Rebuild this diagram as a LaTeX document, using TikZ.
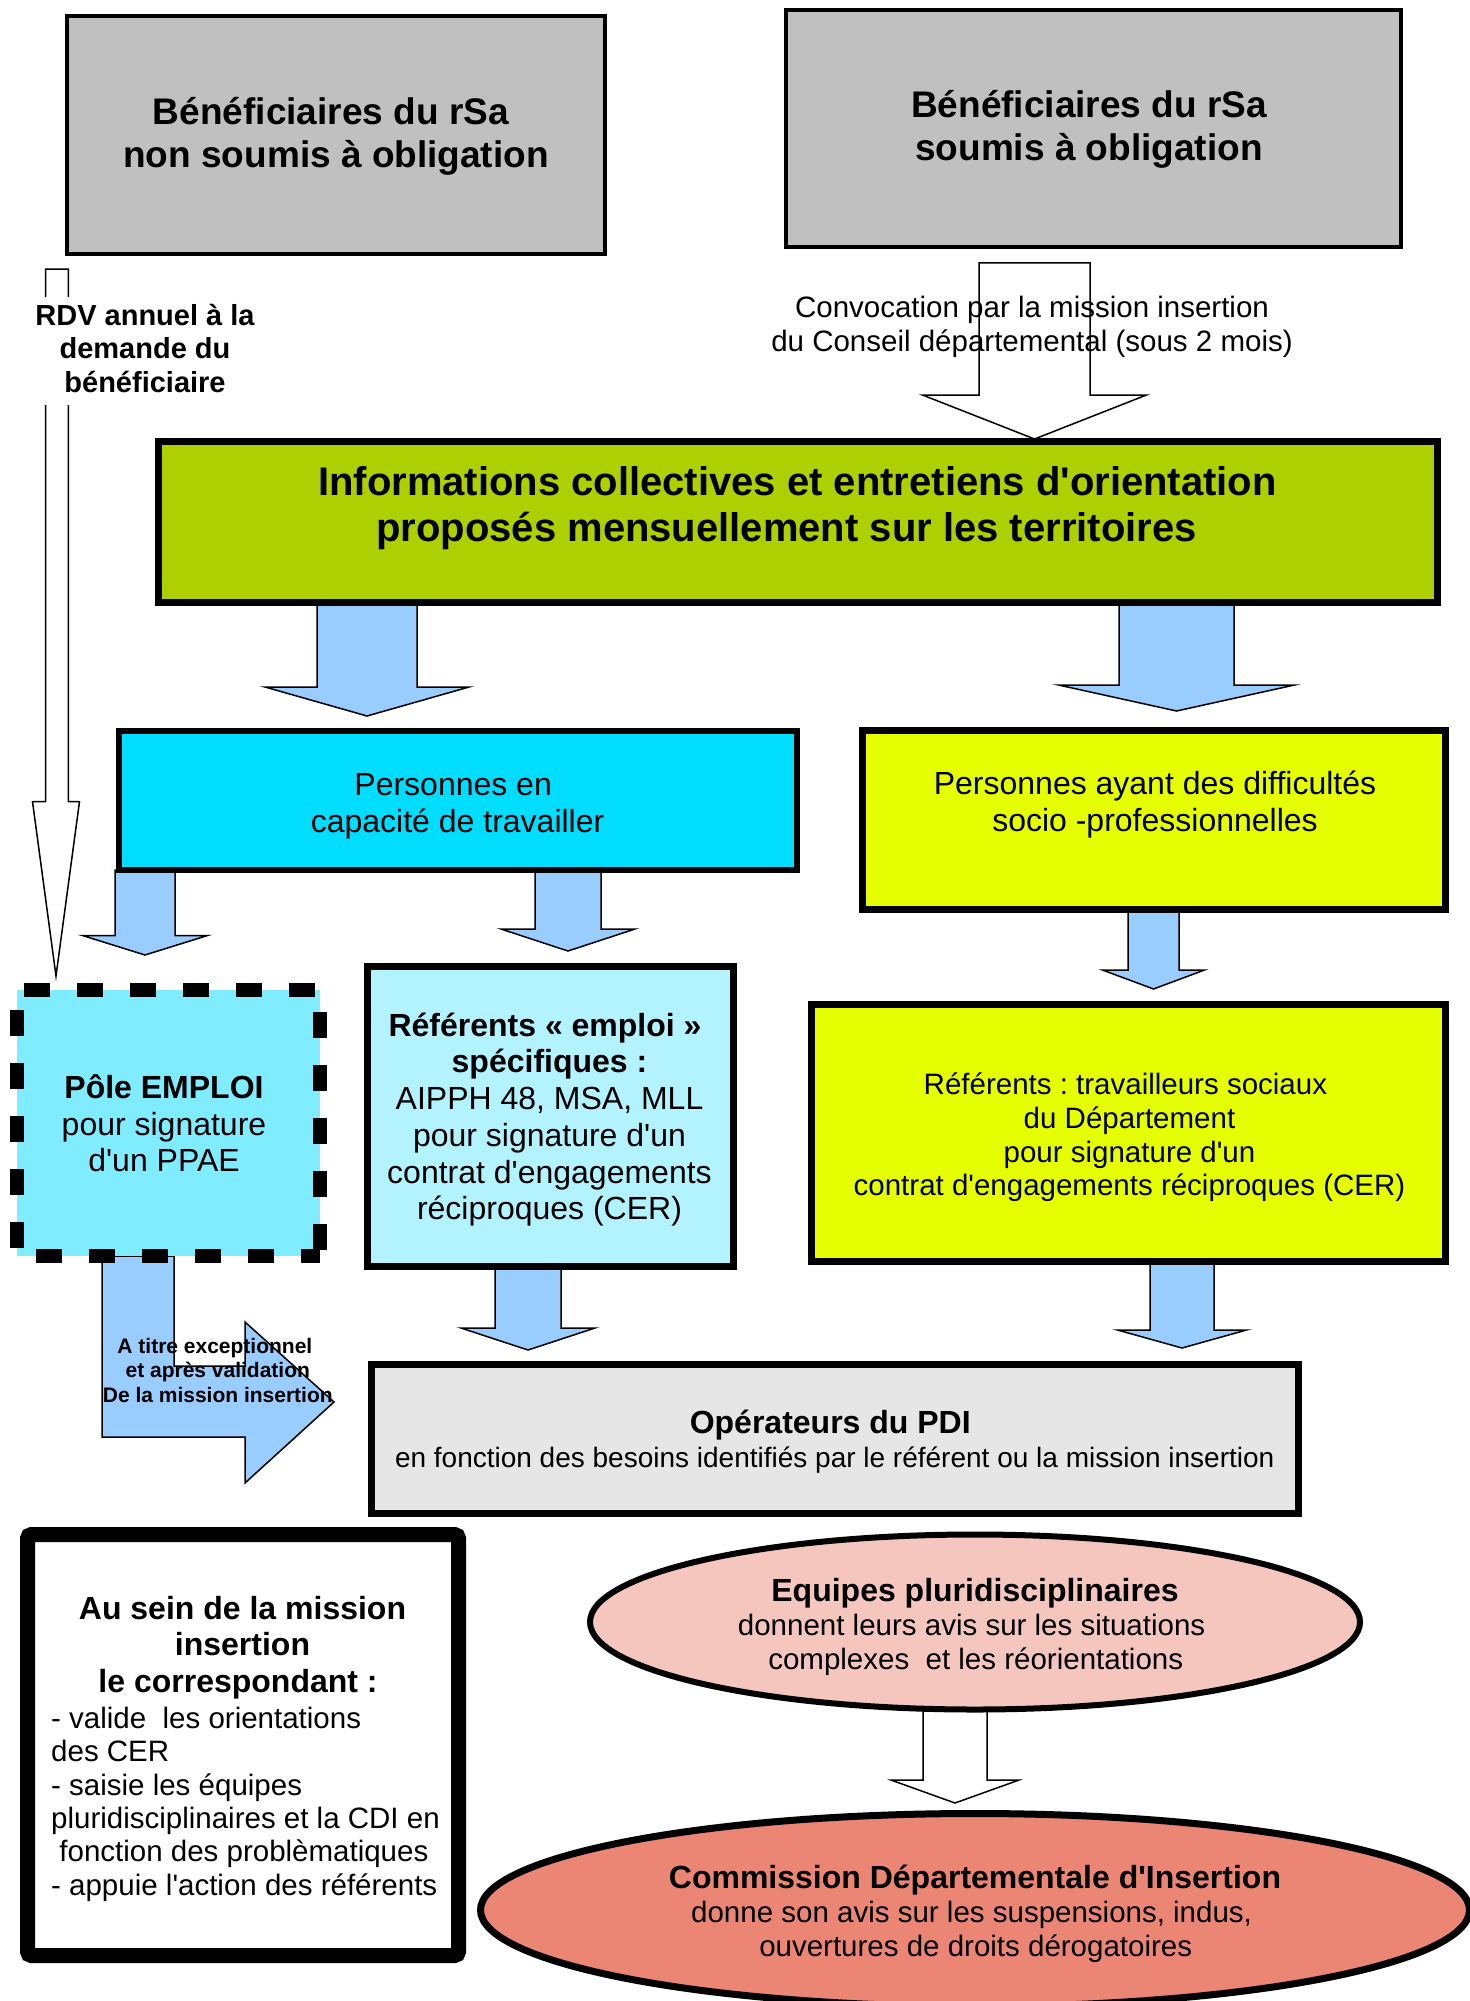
\documentclass[tikz,border=0pt]{standalone}
\usepackage{fontspec}
\newfontfamily\liber{Liberation Sans}
\usetikzlibrary{calc,shapes.geometric,backgrounds}

\definecolor{boxgray}{RGB}{192,192,192}
\definecolor{infogreen}{RGB}{175,208,0}
\definecolor{arrowblue}{RGB}{153,204,255}
\definecolor{capcyan}{RGB}{0,221,255}
\definecolor{polecyan}{RGB}{128,236,255}
\definecolor{refcyan}{RGB}{179,243,255}
\definecolor{diffyellow}{RGB}{230,255,0}
\definecolor{opgray}{RGB}{230,230,230}
\definecolor{eqpink}{RGB}{245,198,190}
\definecolor{cdisalmon}{RGB}{235,134,116}

\newcommand\fz[2]{\liber\fontsize{#1}{#2}\selectfont\frenchspacing}
\newcommand\mystrut{\rule{0pt}{1em}}

% block arrow pointing down: #1 style, #2 source node, #3 target node, #4 x,
% #5 shaft half width, #6 head half width, #7 head length, #8 gap above target, #9 gap below source
\newcommand\blockdown[9]{%
  \path (#4,0 |- #2.south) coordinate (ba-s) (#4,0 |- #3.north) coordinate (ba-t);
  \draw[#1] ($(ba-s)+(-#5,#9)$) -- ($(ba-s)+(#5,#9)$) -- ($(ba-t)+(#5,-#8-#7)$)
    -- ($(ba-t)+(#6,-#8-#7)$) -- ($(ba-t)+(0,-#8)$) -- ($(ba-t)+(-#6,-#8-#7)$)
    -- ($(ba-t)+(-#5,-#8-#7)$) -- cycle;}

\tikzset{
  shapebox/.style={rectangle, draw=black, inner sep=0pt, outer sep=0pt},
  shapeell/.style={ellipse, draw=black, inner sep=0pt, outer sep=0pt},
  txt/.style={inner sep=0pt, anchor=north, align=center, text=black},
  bluearrow/.style={fill=arrowblue, draw=black, line width=1.5pt},
  hollowarrow/.style={fill=white, draw=black, line width=1.5pt},
  poledash/.style={line width=14pt, dash pattern=on 26pt off 27pt},
}

\begin{document}
\begin{tikzpicture}[x=1pt,y=-1pt]
\useasboundingbox (0,0) rectangle (1469,2001);
\begin{pgfonlayer}{background}
  \fill[white] (0,0) rectangle (1469,2001);
\end{pgfonlayer}

% ---------- boxes ----------
\node[shapebox, fill=boxgray, line width=4pt, minimum width=538pt, minimum height=238pt] (nonsoumis) at (336,135) {};
\node[shapebox, fill=boxgray, line width=4pt, minimum width=615pt, minimum height=237pt] (soumis) at (1093.5,128.5) {};
\node[shapebox, fill=infogreen, line width=7pt, minimum width=1279pt, minimum height=161pt] (infos) at (797.5,521.5) {};
\node[shapebox, fill=capcyan, line width=6pt, minimum width=678pt, minimum height=139pt] (capacite) at (458,800.5) {};
\node[shapebox, fill=diffyellow, line width=7pt, minimum width=582.5pt, minimum height=179pt] (difficultes) at (1153.75,819.5) {};
\node[rectangle, fill=polecyan, inner sep=0pt, outer sep=0pt, minimum width=303.5pt, minimum height=266pt] (pole) at (168.25,1123) {};
\draw[poledash, dash phase=45.5pt] (pole.north west) -- (pole.north east);
\draw[poledash, dash phase=31pt] (pole.north east) -- (pole.south east);
\draw[poledash, dash phase=33.5pt] (pole.south west) -- (pole.south east);
\draw[poledash, dash phase=33pt] (pole.north west) -- (pole.south west);
\node[shapebox, fill=refcyan, line width=7pt, minimum width=366pt, minimum height=300pt] (refemploi) at (550,1116) {};
\node[shapebox, fill=diffyellow, line width=7pt, minimum width=633.5pt, minimum height=257pt] (refsociaux) at (1128.25,1133) {};
\node[shapebox, fill=opgray, line width=7pt, minimum width=927pt, minimum height=149pt] (operateurs) at (834.5,1438.5) {};
\node[shapeell, fill=eqpink, line width=6pt, minimum width=770pt, minimum height=175pt] (equipes) at (975,1622) {};
\node[shapeell, fill=cdisalmon, line width=7pt, minimum width=989pt, minimum height=193pt] (cdi) at (975,1910) {};
\node[shapebox, fill=white, line width=15pt, rounded corners=4pt, minimum width=431pt, minimum height=421pt] (mission) at (243,1745) {};

% ---------- arrows (behind the boxes) ----------
\begin{pgfonlayer}{background}
  \blockdown{hollowarrow}{soumis}{infos}{1034.5}{55.5}{112}{44}{2}{16}
  \blockdown{bluearrow}{infos}{capacite}{367}{50}{102}{29}{15}{0}
  \blockdown{bluearrow}{infos}{difficultes}{1176.5}{57.5}{118}{26}{19}{0}
  \blockdown{bluearrow}{capacite}{pole}{145}{30}{62.5}{19.5}{35}{0}
  \blockdown{bluearrow}{capacite}{refemploi}{568}{33}{67}{22}{15}{0}
  \blockdown{bluearrow}{difficultes}{refsociaux}{1153.5}{25.5}{51}{19}{15.5}{0}
  \blockdown{bluearrow}{refemploi}{operateurs}{528}{33}{67}{22}{14}{0}
  \blockdown{bluearrow}{refsociaux}{operateurs}{1182}{32}{64.5}{18}{16}{0}
  \blockdown{hollowarrow}{equipes}{cdi}{955}{32}{64}{23}{10.5}{0}
  % bent arrow from Pole emploi towards the PDI operators
  \draw[bluearrow] (102,0 |- pole.south) -- (174,0 |- pole.south) -- (174,1366) -- (245,1366)
    -- (245,1322) -- (334,1402) -- (245,1483) -- (245,1437) -- (102,1437) -- cycle;
  % RDV annuel arrow
  \coordinate (rdvtop) at (57,269);
  \coordinate (rdvtip) at (56,976);
  \draw[hollowarrow] (45.7,269) -- (68.3,269) -- (68.3,801.5) -- (79.5,801.5) -- (rdvtip)
    -- (32.5,801.5) -- (45.7,801.5) -- cycle;
\end{pgfonlayer}
\fill[white] (38,297) rectangle (76,405);

% ---------- texts ----------
\node[txt, font={\fz{37}{42.5}\bfseries}] (nonsoumis-t) at (336,87.5)
  {\mystrut Bénéficiaires du rSa\hspace*{10.3pt}\\non soumis à obligation};
\node[txt, font={\fz{37}{42.5}\bfseries}] (soumis-t) at (1089,80.7)
  {\mystrut Bénéficiaires du rSa\\soumis à obligation};
\node[txt, font={\fz{29}{33.4}\bfseries}] (rdv-t) at (145,296)
  {\mystrut RDV annuel à la\\demande du\\bénéficiaire};
\node[txt, font={\fz{29.5}{33.9}}] (conv-t) at (1032,287.5)
  {\mystrut Convocation par la mission insertion\\du Conseil départemental (sous 2 mois)};
\node[txt, font={\fz{40}{46}\bfseries}] (infos-t) at (797.5,455)
  {\mystrut Informations collectives et entretiens d'orientation\\proposés mensuellement sur les territoires\hspace*{22pt}};
\node[txt, font={\fz{32}{36.8}}] (capacite-t) at (457.6,763)
  {\mystrut Personnes en\hspace*{8.9pt}\\capacité de travailler};
\node[txt, font={\fz{32}{36.8}}] (difficultes-t) at (1155,762)
  {\mystrut Personnes ayant des difficultés\\socio -professionnelles};
\node[txt, font={\fz{32}{36.8}}] (pole-t) at (164,1066)
  {\mystrut{\bfseries Pôle EMPLOI}\\pour signature\\d'un PPAE};
\node[txt, font={\fz{32}{36.7}}] (refemploi-t) at (549.5,1004)
  {\mystrut{\bfseries Référents « emploi »\hspace*{8.9pt}}\\{\bfseries spécifiques :}\\AIPPH 48, MSA, MLL\\pour signature d'un\\contrat d'engagements\\réciproques (CER)};
\node[txt, font={\fz{29.5}{33.9}}] (refsociaux-t) at (1129.5,1064.5)
  {\mystrut Référents : travailleurs sociaux\hspace*{8.2pt}\\du Département\\pour signature d'un\hspace*{8.2pt}\\contrat d'engagements réciproques (CER)};
\node[txt, font={\fz{21}{24.2}\bfseries}] (exc-t) at (217.8,1332.4)
  {\mystrut A titre exceptionnel\hspace*{5.8pt}\\et après validation\hspace*{5.8pt}\\De la mission insertion};
\node[txt, font={\fz{32}{36.8}\bfseries}] (operateurs-t1) at (834.7,1401)
  {\mystrut Opérateurs du PDI\hspace*{8.9pt}};
\node[txt, font={\fz{28}{32.2}}] (operateurs-t2) at (834.7,1439)
  {\mystrut en fonction des besoins identifiés par le référent ou la mission insertion};
\node[txt, font={\fz{32}{36.8}\bfseries}] (equipes-t1) at (975,1569)
  {\mystrut Equipes pluridisciplinaires};
\node[txt, font={\fz{29.5}{34.4}}] (equipes-t2) at (975.7,1605.5)
  {\mystrut donnent leurs avis sur les situations\hspace*{8.2pt}\\complexes~ et les réorientations};
\node[txt, font={\fz{32}{36.8}\bfseries}] (cdi-t1) at (975,1856.6)
  {\mystrut Commission Départementale d'Insertion};
\node[txt, font={\fz{29.5}{34.4}}] (cdi-t2) at (975.7,1892.8)
  {\mystrut donne son avis sur les suspensions, indus,\hspace*{8.2pt}\\ouvertures de droits dérogatoires};
\node[txt, font={\fz{32}{36.6}\bfseries}] (mission-t1) at (242.5,1587)
  {\mystrut Au sein de la mission\\insertion\\le correspondant :\hspace*{8.9pt}};
\node[inner sep=0pt, anchor=north west, align=left, font={\fz{29.5}{33.4}}] (mission-t2) at (51,1698.5)
  {\mystrut - valide~ les orientations\\des CER\\- saisie les équipes\\pluridisciplinaires et la CDI en\\\hspace*{8.2pt}fonction des problèmatiques\\- appuie l'action des référents};
\end{tikzpicture}
\end{document}
